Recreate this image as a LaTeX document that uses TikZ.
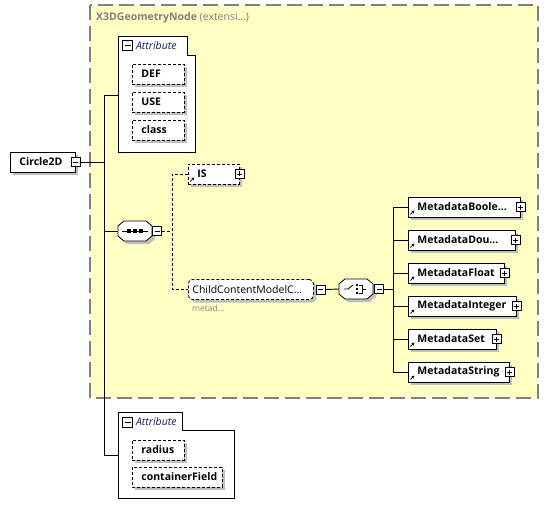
\documentclass[tikz,border=0pt]{standalone}
\usepackage{fontspec}
\setmainfont{Open Sans}
\usetikzlibrary{shadows,arrows.meta}

\definecolor{groupfill}{HTML}{FFFFC4}
\definecolor{groupline}{HTML}{808080}
\definecolor{notegray}{HTML}{8A8A8A}
\definecolor{navy}{HTML}{1A1A50}

\tikzset{
    shade box/.style={drop shadow={shadow xshift=3pt, shadow yshift=-3pt, fill=black!25, opacity=1}},
    elem/.style={draw, fill=white, line width=0.8pt, anchor=west, minimum height=20pt,
        inner xsep=9pt, inner ysep=0pt, text width=#1, align=left,
        font=\fontsize{10.5}{13}\selectfont\bfseries, shade box},
    optelem/.style={elem=#1, dash pattern=on 3pt off 2pt},
    refglyph/.style={path picture={
        \draw[black, line width=0.8pt, -{Stealth[length=3pt,width=3pt]}]
            ([shift={(2pt,2.5pt)}]path picture bounding box.south west) -- ++(4pt,4pt);}},
    icon/.style={draw, fill=white, line width=0.8pt, minimum size=9pt, inner sep=0pt},
    minusicon/.style={icon, path picture={
        \draw[line width=0.8pt] ([xshift=2pt]path picture bounding box.west)
            -- ([xshift=-2pt]path picture bounding box.east);}},
    plusicon/.style={icon, path picture={
        \draw[line width=0.8pt] ([xshift=2pt]path picture bounding box.west)
            -- ([xshift=-2pt]path picture bounding box.east);
        \draw[line width=0.8pt] ([yshift=-2pt]path picture bounding box.north)
            -- ([yshift=2pt]path picture bounding box.south);}},
    compositor/.style={minimum width=34pt, minimum height=20pt, inner sep=0pt},
    glyph/.style={line width=0.8pt},
    group/.style={draw, fill=white, line width=0.8pt},
    grouptitle/.style={anchor=west, text=navy, inner xsep=3pt,
        font=\fontsize{10.5}{13}\selectfont\itshape},
    conn/.style={line width=0.9pt},
    dconn/.style={line width=0.9pt, dash pattern=on 3pt off 2pt}
}

\begin{document}
\begin{tikzpicture}[x=1pt, y=-1pt]
    \useasboundingbox (0,0) rectangle (549,516);

    % Draw extension group (X3DGeometryNode)
    \draw[fill=groupfill, draw=groupline, line width=1.3pt, dash pattern=on 15pt off 6pt]
        (90,5) rectangle (538,398);
    \node[anchor=west, text=groupline, inner xsep=0pt, font=\fontsize{10.5}{13}\selectfont]
        (geomtitle) at (96,18) {\textbf{X3DGeometryNode} (extensi\ldots)};

    % Draw root element
    \node[elem=47] (circle) at (10,162) {Circle2D};
    \node[minusicon] (circleminus) at (circle.east) {};

    % Draw first attribute group
    \draw[group] (118,36) -- (187,36) -- (187,55) -- (195,55) -- (195,152) -- (118,152) -- cycle;
    \node[minusicon, minimum size=10pt] (attrAminus) at (127.5,45.5) {};
    \node[grouptitle] (attrAtitle) at (attrAminus.east) {Attribute};
    \node[optelem=34] (def) at (132,74) {DEF};
    \node[optelem=34] (use) at (132,102) {USE};
    \node[optelem=34] (class) at (132,130) {class};
    \coordinate (attrA) at (118,95);

    % Draw compositors (sequence and choice)
    \node[compositor] (seq) at (135,231) {};
    \node[compositor] (choice) at (356,289) {};
    \foreach \n in {seq, choice} {
        \begin{scope}[shift={(\n.center)}]
            \fill[black!25, shift={(3pt,-3pt)}] (-11pt,10pt) -- (11pt,10pt) -- (17pt,5pt)
                -- (17pt,-5pt) -- (11pt,-10pt) -- (-11pt,-10pt) -- (-17pt,-5pt) -- (-17pt,5pt) -- cycle;
            \draw[fill=white, line width=0.8pt] (-11pt,10pt) -- (11pt,10pt) -- (17pt,5pt)
                -- (17pt,-5pt) -- (11pt,-10pt) -- (-11pt,-10pt) -- (-17pt,-5pt) -- (-17pt,5pt) -- cycle;
        \end{scope}
    }
    \begin{scope}[shift={(seq.center)}]
        \draw[glyph] (-13pt,0pt) -- (13pt,0pt);
        \foreach \dx in {-6,0,6}
            \fill[black] (\dx pt-1.7pt,-1.7pt) rectangle ++(3.4pt,3.4pt);
    \end{scope}
    \begin{scope}[shift={(choice.center)}]
        \draw[glyph] (-12pt,0pt) -- (-8pt,0pt) -- (-3pt,4pt);
        \foreach \dy in {-4,0,4}
            \fill[black] (0pt,\dy pt-1.2pt) rectangle ++(2.4pt,2.4pt);
        \draw[glyph] (3pt,4pt) -- (6pt,4pt) -- (6pt,-4pt) -- (3pt,-4pt);
        \draw[glyph] (6pt,0pt) -- (10pt,0pt);
    \end{scope}
    \node[minusicon, anchor=west] (seqminus) at (seq.east) {};
    \node[minusicon, anchor=west] (choiceminus) at ([xshift=1pt]choice.east) {};

    % Draw IS and child content model
    \node[optelem=33, refglyph] (is) at (188,174) {IS};
    \node[plusicon] (isplus) at (is.east) {};
    \node[elem=117, inner xsep=4pt, rounded corners=4pt, dash pattern=on 3pt off 2pt,
        font=\fontsize{10.5}{13}\selectfont] (child) at (188,289.5) {ChildContentModelC\ldots};
    \node[minusicon, anchor=west] (childminus) at ([xshift=2pt]child.east) {};
    \node[anchor=north west, text=notegray, inner xsep=0pt, font=\fontsize{8.5}{10}\selectfont]
        (childnote) at (192,302) {metad\ldots};

    % Draw metadata elements
    \foreach \elname/\eltext/\elw [count=\i from 0] in
        {mbool/MetadataBoole\ldots/94, mdou/MetadataDou\ldots/89, mfloat/MetadataFloat/78,
         mint/MetadataInteger/90, mset/MetadataSet/70, mstr/MetadataString/83} {
        \node[elem=\elw, refglyph] (\elname) at (408,207+33*\i) {\eltext};
        \node[plusicon] (\elname plus) at (\elname.east) {};
    }

    % Draw second attribute group
    \draw[group] (118,412) -- (182,412) -- (182,430) -- (234,430) -- (234,498) -- (118,498) -- cycle;
    \node[minusicon, minimum size=10pt] (attrBminus) at (127.5,422) {};
    \node[grouptitle] (attrBtitle) at (attrBminus.east) {Attribute};
    \node[optelem=34] (radius) at (132,450) {radius};
    \node[optelem=72] (container) at (132,477) {containerField};
    \coordinate (attrB) at (118,455);

    % Connectors
    \coordinate (trunkx) at (104,0);
    \draw[conn] (attrA) -- ++(-14,0) |- (attrB);
    \draw[conn] (circleminus.east) -- (circleminus.east -| trunkx);
    \draw[conn] (seq.west) -- (seq.west -| trunkx);

    \coordinate (seqx) at (172,0);
    \draw[dconn] (seqminus.east) -- (seqminus.east -| seqx);
    \draw[dconn] (is.west) -- (is.west -| seqx) |- (child.west);

    \draw[conn] (childminus.east) -- (choice.west);
    \coordinate (choicex) at (393,0);
    \draw[conn] (choiceminus.east) -- (choiceminus.east -| choicex);
    \draw[conn] (mbool.west) -- (mbool.west -| choicex) |- (mstr.west);
    \foreach \elname in {mdou, mfloat, mint, mset}
        \draw[conn] (\elname.west) -- (\elname.west -| choicex);

\end{tikzpicture}
\end{document}
